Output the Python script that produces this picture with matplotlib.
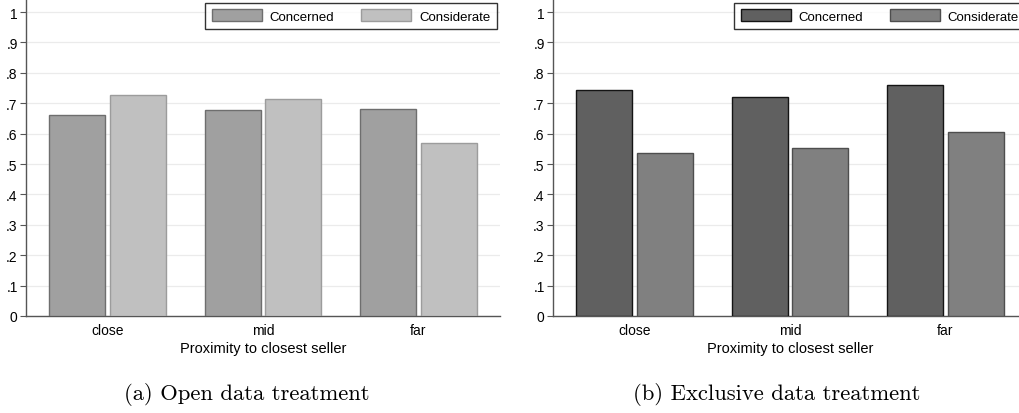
import matplotlib

matplotlib.use("Agg")
import matplotlib.pyplot as plt
import numpy as np

plt.rcParams["font.family"] = ["Liberation Sans", "DejaVu Sans"]

CATEGORIES = ["close", "mid", "far"]
SERIES = ["Concerned", "Considerate"]
OPEN_CONCERNED = [0.662, 0.679, 0.682]
OPEN_CONSIDERATE = [0.726, 0.715, 0.569]
EXCL_CONCERNED = [0.744, 0.722, 0.759]
EXCL_CONSIDERATE = [0.537, 0.553, 0.606]
Y_TICKS = [0, 0.1, 0.2, 0.3, 0.4, 0.5, 0.6, 0.7, 0.8, 0.9, 1.0]
Y_TICK_LABELS = ["0", ".1", ".2", ".3", ".4", ".5", ".6", ".7", ".8", ".9", "1"]
XLABEL = "Proximity to closest seller"
CAPTIONS = ["(a) Open data treatment", "(b) Exclusive data treatment"]

# fill / edge colours per panel
STYLES = [
    (("#a0a0a0", "#6e6e6e"), ("#c0c0c0", "#9c9c9c")),
    (("#606060", "#141414"), ("#808080", "#4e4e4e")),
]

W, H = 1020, 414


def draw_panel(ax, concerned, considerate, styles, legend_x):
    x = np.arange(len(CATEGORIES))
    width = 0.36
    for offset, values, (fill, edge), label in zip(
        (-0.195, 0.195), (concerned, considerate), styles, SERIES
    ):
        ax.bar(x + offset, values, width, color=fill, edgecolor=edge,
               linewidth=1.0, label=label, zorder=3)
    ax.set_xlim(-0.525, 2.525)
    ax.set_ylim(0, 1.043)
    ax.set_yticks(Y_TICKS)
    ax.set_yticklabels(Y_TICK_LABELS)
    ax.set_xticks(x)
    ax.set_xticklabels(CATEGORIES)
    ax.tick_params(axis="y", length=4, width=0.8, color="#555555", pad=2, labelsize=10)
    ax.tick_params(axis="x", length=0, pad=5, labelsize=10)
    ax.grid(axis="y", color="#ebebeb", linewidth=0.9, zorder=0)
    ax.set_axisbelow(True)
    for side in ("top", "right"):
        ax.spines[side].set_visible(False)
    for side in ("left", "bottom"):
        ax.spines[side].set_color("#555555")
        ax.spines[side].set_linewidth(1.0)
    ax.set_xlabel(XLABEL, fontsize=10.5, labelpad=3)
    leg = ax.legend(loc="upper left", bbox_to_anchor=(legend_x, 0.988), ncol=2,
                    fontsize=9.5, frameon=True, fancybox=False, edgecolor="black",
                    handlelength=3.8, handleheight=1.0, handletextpad=0.6,
                    columnspacing=2.0, borderpad=0.5, borderaxespad=0)
    leg.get_frame().set_linewidth(1.0)


fig = plt.figure(figsize=(W / 100, H / 100), dpi=100)
ax_w = 474 / W
ax_h = 317 / H
ax_b = 97 / H
axes = [
    fig.add_axes([26 / W, ax_b, ax_w, ax_h]),
    fig.add_axes([553 / W, ax_b, ax_w, ax_h]),
]

draw_panel(axes[0], OPEN_CONCERNED, OPEN_CONSIDERATE, STYLES[0], 0.378)
draw_panel(axes[1], EXCL_CONCERNED, EXCL_CONSIDERATE, STYLES[1], 0.382)

for cx, caption in zip((247 / W, 777 / W), CAPTIONS):
    fig.text(cx, 19 / H, caption, ha="center", va="center", fontsize=16.3,
             family=["cmr10", "DejaVu Serif"])

fig.savefig("out.png", dpi=100)
